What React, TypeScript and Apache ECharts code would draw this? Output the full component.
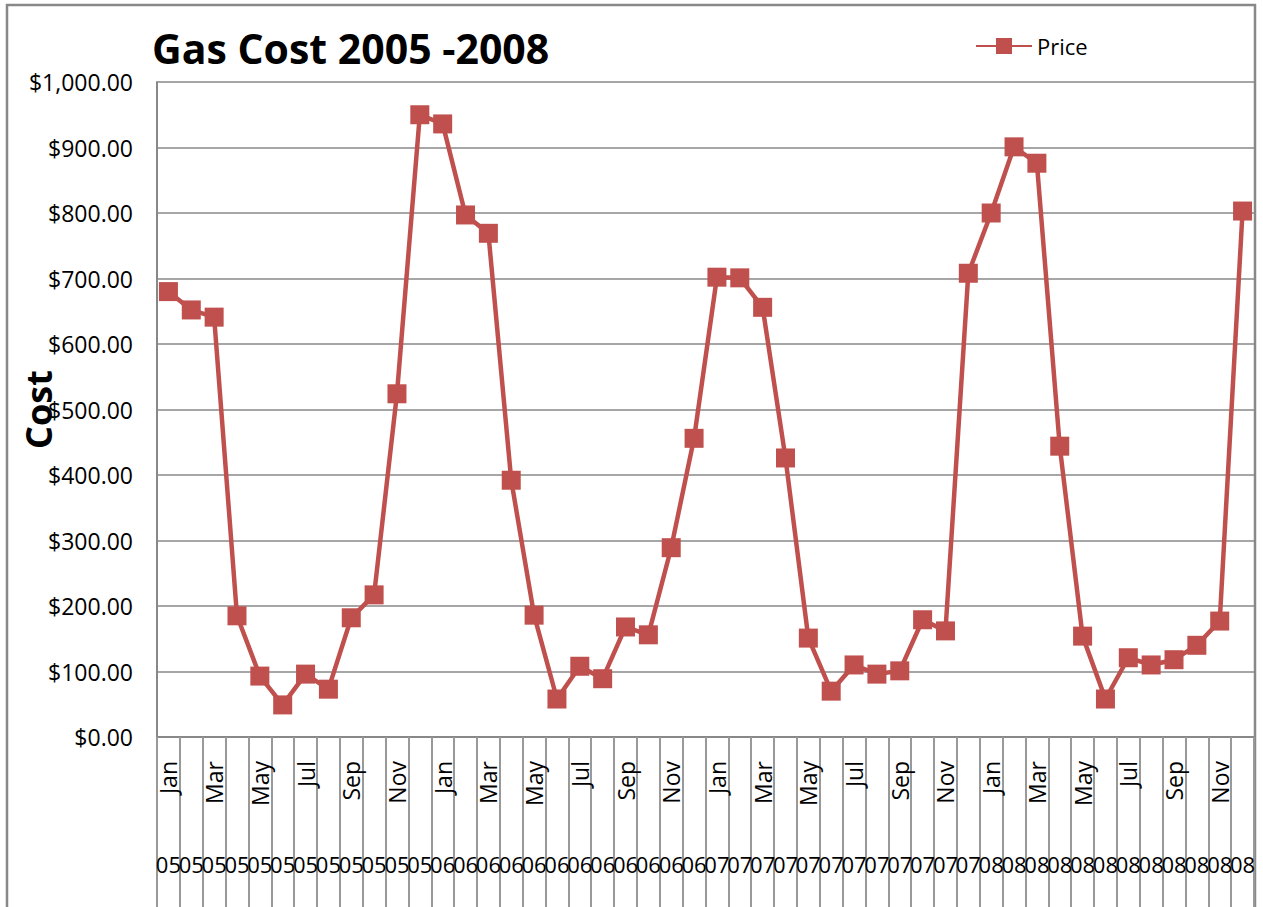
import React, { useEffect, useRef } from "react";
import * as echarts from "echarts";

const months = ["Jan","Feb","Mar","Apr","May","Jun","Jul","Aug","Sep","Oct","Nov","Dec"];
const years = ["05", "06", "07", "08"];
const categories: string[] = [];
const yearLabels: string[] = [];
years.forEach((y) => months.forEach((m) => { categories.push(m + " " + y); yearLabels.push(y); }));

const price = [
  680, 652, 641, 185, 93, 49, 96, 73, 182, 217, 524, 950,
  936, 797, 769, 392, 186, 58, 108, 89, 168, 156, 289, 456,
  702, 701, 656, 426, 151, 70, 110, 96, 101, 179, 162, 708,
  800, 901, 876, 444, 154, 58, 121, 110, 118, 140, 177, 803,
];

const FONT = "Open Sans";

export default function App() {
  const ref = useRef<HTMLDivElement>(null);
  useEffect(() => {
    const chart = echarts.init(ref.current!, null, { renderer: "svg" });
    chart.setOption({
      animation: false,
      backgroundColor: "#ffffff",
      textStyle: { fontFamily: FONT },
      graphic: [
        {
          type: "rect",
          shape: { x: 7, y: 5, width: 1248, height: 920 },
          style: { fill: "none", stroke: "#888888", lineWidth: 2.5 },
          z: 0,
        },
        {
          type: "text",
          left: 152,
          top: 27,
          style: { text: "Gas Cost 2005 -2008", font: `bold 41px "${FONT}"`, fill: "#000" },
        },
      ],
      legend: {
        left: 970,
        top: 30,
        itemWidth: 56,
        itemHeight: 20,
        textStyle: { fontSize: 22, color: "#000", fontFamily: FONT },
        data: ["Price"],
      },
      grid: { left: 157, right: 9, top: 82, bottom: 170, containLabel: false, outerBoundsMode: "none" },
      xAxis: [
        {
          type: "category",
          data: categories,
          boundaryGap: true,
          axisLine: { lineStyle: { color: "#888", width: 2 } },
          axisTick: { show: true, interval: 0, length: 170, lineStyle: { color: "#999", width: 2 } },
          axisLabel: {
            interval: 1,
            rotate: 90,
            margin: 24,
            fontSize: 23,
            color: "#000",
            fontFamily: FONT,
            formatter: (v: string) => v.split(" ")[0],
          },
        },
        {
          type: "category",
          data: categories,
          position: "bottom",
          boundaryGap: true,
          axisLine: { show: false },
          axisTick: { show: false },
          axisLabel: {
            interval: 0,
            margin: 116,
            fontSize: 22,
            color: "#000",
            fontFamily: FONT,
            formatter: (_v: string, i: number) => yearLabels[i],
          },
        },
      ],
      yAxis: {
        type: "value",
        min: 0,
        max: 1000,
        interval: 100,
        name: "Cost",
        nameLocation: "middle",
        nameGap: 101,
        nameMoveOverlap: false,
        nameTextStyle: { fontSize: 36, fontWeight: "bold", color: "#000", fontFamily: FONT },
        axisLine: { show: true, lineStyle: { color: "#888", width: 2 } },
        axisTick: { show: false },
        splitLine: { lineStyle: { color: "#888", width: 1.5 } },
        axisLabel: {
          margin: 24,
          fontSize: 23,
          color: "#000",
          fontFamily: FONT,
          formatter: (v: number) => "$" + v.toLocaleString("en-US", { minimumFractionDigits: 2, maximumFractionDigits: 2 }),
        },
      },
      series: [
        {
          name: "Price",
          type: "line",
          data: price,
          symbol: "rect",
          symbolSize: 19,
          showAllSymbol: true,
          itemStyle: { color: "#C0504D" },
          lineStyle: { color: "#C0504D", width: 4.5 },
          z: 5,
        },
      ],
    });
    return () => chart.dispose();
  }, []);
  return (
    <div style={{ position: "fixed", left: 0, top: 0, width: 1263, height: 907, background: "#fff" }}>
      <div ref={ref} style={{ width: 1263, height: 907 }} />
    </div>
  );
}
